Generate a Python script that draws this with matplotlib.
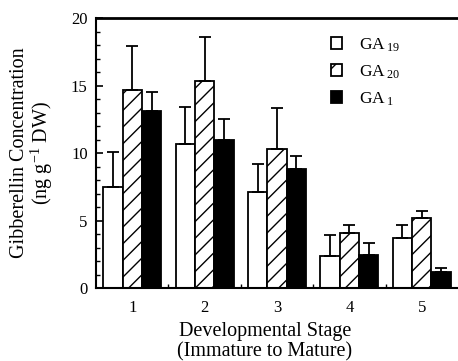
import matplotlib
matplotlib.use("Agg")
import matplotlib.pyplot as plt
import numpy as np

plt.rcParams['font.family'] = ['Liberation Serif', 'DejaVu Serif']
plt.rcParams['mathtext.fontset'] = 'custom'
plt.rcParams['mathtext.rm'] = 'Liberation Serif'
plt.rcParams['mathtext.it'] = 'Liberation Serif:italic'
plt.rcParams['hatch.linewidth'] = 1.0

stages = ["1", "2", "3", "4", "5"]
ga19 = [7.5, 10.7, 7.1, 2.4, 3.7]
ga19_err = [2.6, 2.7, 2.1, 1.5, 0.95]
ga20 = [14.7, 15.3, 10.3, 4.1, 5.15]
ga20_err = [3.2, 3.3, 3.0, 0.55, 0.55]
ga1 = [13.1, 11.0, 8.8, 2.45, 1.2]
ga1_err = [1.4, 1.5, 1.0, 0.85, 0.3]

fig = plt.figure(figsize=(4.58, 3.61), dpi=100)
ax = fig.add_axes([96 / 458, 1 - 288 / 361, 1 - 96 / 458, (288 - 18) / 361])

x = np.arange(1, 6)
w = 0.267
err_kw = dict(ecolor='black', elinewidth=1.3, capsize=4.5, capthick=1.3)

ax.bar(x - w, ga19, w, color='white', edgecolor='black', linewidth=1.3,
       yerr=[np.zeros(5), ga19_err], error_kw=err_kw, label=r'GA$\,_{19}$')
ax.bar(x, ga20, w, color='white', edgecolor='black', linewidth=1.3, hatch='//',
       yerr=[np.zeros(5), ga20_err], error_kw=err_kw, label=r'GA$\,_{20}$')
ax.bar(x + w, ga1, w, color='black', edgecolor='black', linewidth=1.3,
       yerr=[np.zeros(5), ga1_err], error_kw=err_kw, label=r'GA$\,_{1}$')

ax.set_xlim(0.5, 5.5)
ax.set_ylim(0, 20)
ax.set_xticks(x)
ax.set_xticklabels(stages)
ax.set_xticks([1.5, 2.5, 3.5, 4.5], minor=True)
ax.set_yticks([0, 5, 10, 15, 20])
ax.set_yticks(np.arange(0, 21, 1), minor=True)
ax.tick_params(axis='x', which='major', length=0, labelsize=12, pad=9)
ax.tick_params(axis='x', which='minor', direction='in', length=3, width=1)
ax.tick_params(axis='y', which='major', direction='in', length=5, width=1.2,
               labelsize=12, pad=6)
ax.tick_params(axis='y', which='minor', direction='in', length=3, width=1)

ax.spines['right'].set_visible(False)
ax.spines['top'].set_linewidth(2.0)
ax.spines['left'].set_linewidth(1.5)
ax.spines['bottom'].set_linewidth(1.5)

ax.set_xlabel("Developmental Stage\n(Immature to Mature)", fontsize=14.5,
              linespacing=1.1)
ax.xaxis.set_label_coords((265 - 96) / 362, -0.125)
ax.set_ylabel("Gibberellin Concentration\n(ng g$^{-1}$ DW)", fontsize=14.5,
              linespacing=1.0)
ax.yaxis.set_label_coords(-0.112, 0.5)

leg = ax.legend(loc='upper left', bbox_to_anchor=(0.605, 0.99), frameon=False,
                handlelength=0.65, handleheight=0.65, labelspacing=0.55,
                handletextpad=1.0, fontsize=12.5)

fig.savefig("out.png", dpi=100)
